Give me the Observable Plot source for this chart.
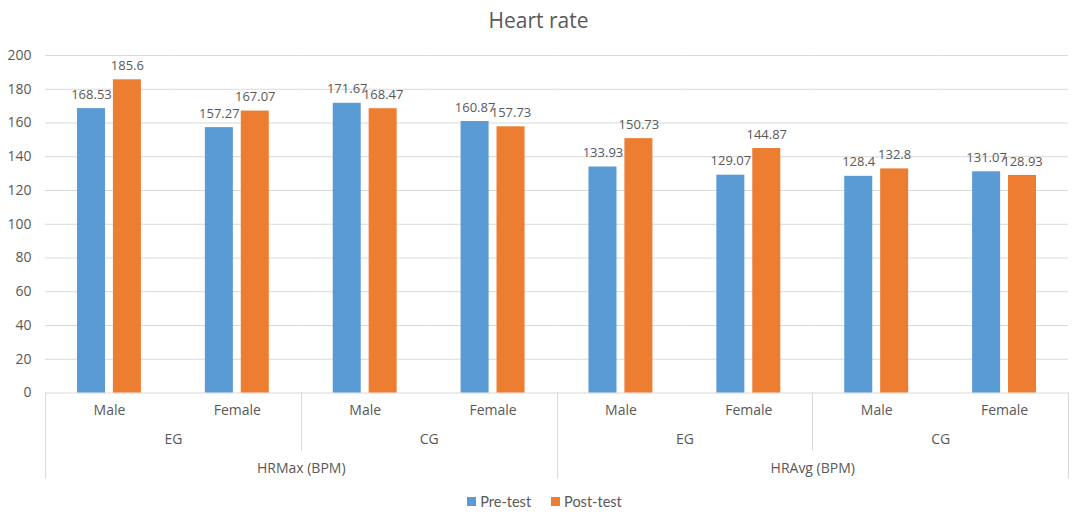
<!DOCTYPE html>
<html>
<head>
<meta charset="utf-8">
<script src="https://cdn.jsdelivr.net/npm/d3@7"></script>
<script src="https://cdn.jsdelivr.net/npm/@observablehq/plot@0.6"></script>
<style>
  body { margin: 0; background: #fff; width: 1077px; height: 514px; overflow: hidden; }
  #title { height: 40px; box-sizing: border-box; padding-top: 6px; line-height: 30px; text-align: center; font: 21px "Open Sans", sans-serif; color: #595959; }
  #legend { height: 34px; box-sizing: border-box; padding-top: 8px; display: flex; justify-content: center; align-items: center; gap: 20px; font: 14.5px Lato, sans-serif; color: #595959; padding-left: 12px; }
  #legend span.sw { display: inline-block; width: 9px; height: 9px; margin-right: 4px; vertical-align: middle; position: relative; top: -1px; }
</style>
</head>
<body>
<div id="title">Heart rate</div>
<div id="chart"></div>
<div id="legend"></div>
<script>
// Heart rate (BPM) before and after the programme, by measure, group and gender
const measures = ["HRMax (BPM)", "HRAvg (BPM)"];
const groups = ["EG", "CG"];
const genders = ["Male", "Female"];
const series = ["Pre-test", "Post-test"];
const colors = ["#5B9BD5", "#ED7D31"];
const preTest = [168.53, 157.27, 171.67, 160.87, 133.93, 129.07, 128.4, 131.07];
const postTest = [185.6, 167.07, 168.47, 157.73, 150.73, 144.87, 132.8, 128.93];
const yTicks = [0, 20, 40, 60, 80, 100, 120, 140, 160, 180, 200];

// One facet per measure / group / gender combination
const cells = [];
measures.forEach(m => groups.forEach(g => genders.forEach(s => {
  cells.push({key: `${m}|${g}|${s}`, measure: m, group: g, gender: s});
})));
const keys = cells.map(c => c.key);

const rows = [];
cells.forEach((c, i) => {
  rows.push({...c, series: series[0], value: preTest[i]});
  rows.push({...c, series: series[1], value: postTest[i]});
});

// Group labels sit on the right edge of each Male cell; measure labels on the second cell of each measure
const groupCells = cells.filter(c => c.gender === "Male");
const measureCells = cells.filter((c, i) => i % 4 === 1);

const font = "'Open Sans', sans-serif";
const textColor = "#595959";

const chart = Plot.plot({
  width: 1077,
  height: 440,
  marginLeft: 45,
  marginRight: 9,
  marginTop: 15,
  marginBottom: 87.5,
  style: {fontFamily: font, fontSize: "14px", color: textColor, background: "#fff"},
  fx: {domain: keys, padding: 0, round: false, axis: null},
  x: {domain: series, paddingInner: 0.22, paddingOuter: 0.89, round: false, axis: null},
  y: {domain: [0, 200], ticks: yTicks, tickSize: 0, tickPadding: 14, label: null},
  color: {domain: series, range: colors},
  marks: [
    Plot.ruleY(yTicks, {y: d => d, stroke: "#d9d9d9", strokeWidth: 1}),
    Plot.barY(rows, {fx: "key", x: "series", y: "value", fill: "series"}),
    Plot.text(rows, {fx: "key", x: "series", y: "value", text: d => String(d.value),
      dy: -14, fill: textColor, fontSize: 13}),
    Plot.text(cells, {fx: "key", text: "gender", frameAnchor: "bottom", dy: 22, fill: textColor, fontSize: 14}),
    Plot.text(groupCells, {fx: "key", text: "group", frameAnchor: "bottom-right", textAnchor: "middle", dy: 51, fill: textColor, fontSize: 14}),
    Plot.text(measureCells, {fx: "key", text: "measure", frameAnchor: "bottom-right", textAnchor: "middle", dy: 80, fill: textColor, fontSize: 14})
  ]
});
document.getElementById("chart").appendChild(chart);

// Category separators below the axis, placed on the facet band boundaries
const fxs = chart.scale("fx");
const band = d3.scaleBand().domain(fxs.domain).range(fxs.range).padding(0);
const yScale = chart.scale("y");
const yBase = d3.scaleLinear().domain(yScale.domain).range(yScale.range)(0);
const seps = [];
keys.forEach((k, i) => {
  const x0 = band(k);
  if (i % 4 === 0) seps.push({x: x0, len: 86});
  else if (i % 2 === 0) seps.push({x: x0, len: 58});
});
seps.push({x: band(keys[keys.length - 1]) + band.bandwidth(), len: 86});
d3.select(chart).append("g")
  .attr("stroke", "#d9d9d9")
  .selectAll("line").data(seps).join("line")
  .attr("x1", d => Math.round(d.x) + 0.5).attr("x2", d => Math.round(d.x) + 0.5)
  .attr("y1", yBase).attr("y2", d => yBase + d.len);

// Legend
const legend = d3.select("#legend");
series.forEach((s, i) => {
  const item = legend.append("div");
  item.append("span").attr("class", "sw").style("background", colors[i]);
  item.append("span").text(s);
});
</script>
</body>
</html>
